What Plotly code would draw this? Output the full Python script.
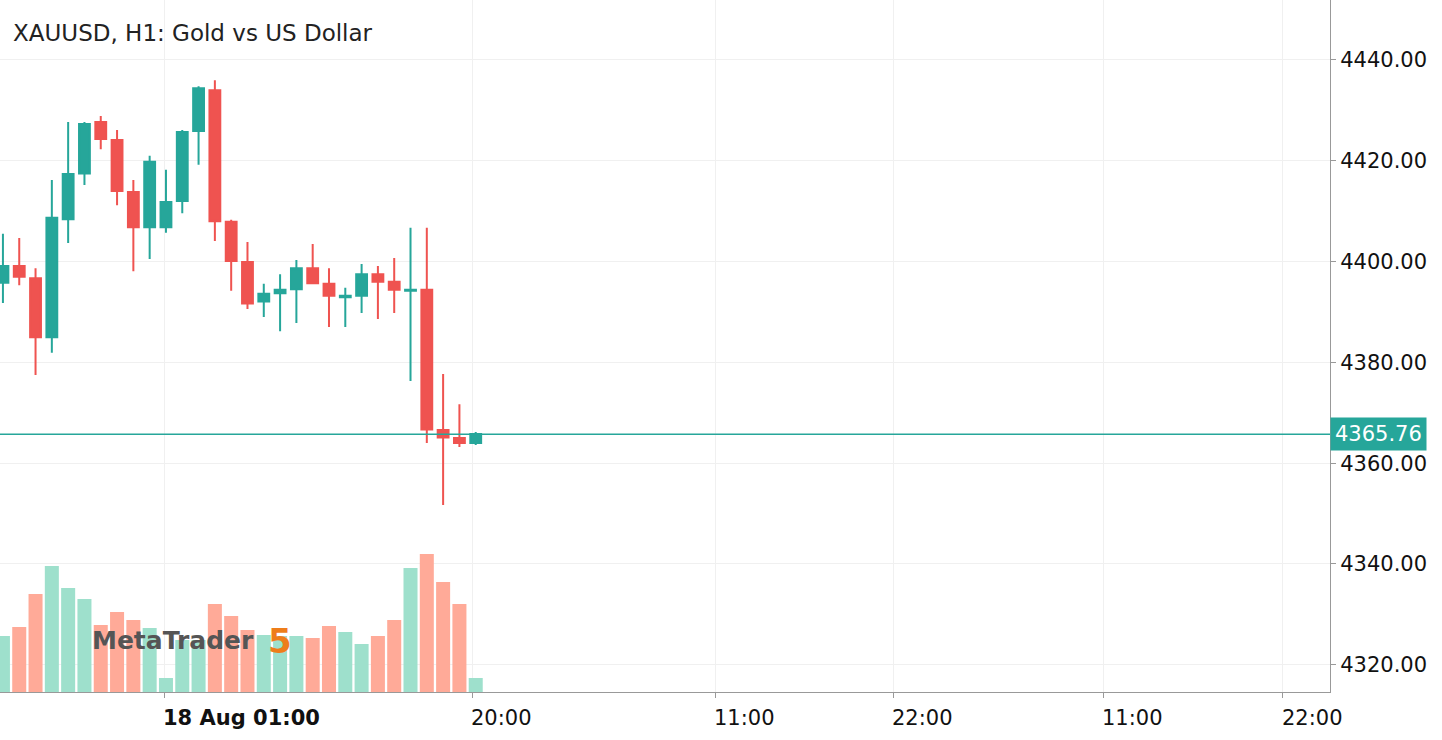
import plotly.graph_objects as go

idx = list(range(30))
opens  = [4395.8,4399.1,4396.7,4385.0,4408.4,4417.5,4427.7,4424.1,4413.8,4406.8,4406.8,4412.0,4425.9,4434.0,4407.9,
          4399.9,4392.1,4393.7,4394.5,4398.7,4395.6,4392.9,4393.2,4397.5,4396.0,4394.2,4394.4,4366.6,4365.0,4364.0]
highs  = [4405.5,4404.7,4398.7,4416.2,4427.7,4427.7,4428.9,4426.1,4416.2,4421.0,4418.2,4426.1,4434.8,4436.0,4408.3,
          4403.9,4395.6,4397.5,4400.3,4403.5,4398.7,4394.8,4399.5,4399.1,4400.7,4406.7,4406.7,4377.7,4371.7,4366.2]
lows   = [4391.8,4395.3,4377.5,4381.9,4403.7,4415.2,4422.3,4411.2,4398.1,4400.5,4405.7,4409.6,4419.2,4404.1,4394.2,
          4390.6,4389.0,4386.2,4387.8,4395.7,4387.0,4387.0,4389.8,4388.6,4389.8,4376.3,4364.0,4351.7,4363.2,4363.6]
closes = [4399.1,4397.0,4385.0,4408.7,4417.4,4427.3,4424.3,4414.0,4406.8,4419.8,4411.8,4425.7,4434.4,4408.0,4400.1,
          4391.7,4393.6,4394.4,4398.7,4395.7,4393.2,4393.2,4397.5,4396.0,4394.4,4394.4,4366.7,4365.1,4364.0,4365.8]
volumes = [56,65,98,126,104,93,67,80,72,64,14,52,52,88,76,62,57,56,56,54,66,60,48,56,72,124,138,110,88,14]
last_price = 4365.76

tick_vals = [9.9, 28.8, 43.7, 54.6, 67.5, 78.5]
tick_text = ["<b>18 Aug 01:00</b>", "20:00", "11:00", "22:00", "11:00", "22:00"]
price_ticks = [4320, 4340, 4360, 4380, 4400, 4420, 4440]

UP, DN = "#26a69a", "#ef5350"
vcol = ["#9ee0cc" if c >= o else "#ffaa98" for o, c in zip(opens, closes)]
FONT = "DejaVu Sans"

fig = go.Figure()
fig.add_trace(go.Bar(x=idx, y=volumes, marker_color=vcol, marker_line_width=0,
                     yaxis="y2", showlegend=False, hoverinfo="skip"))
fig.add_trace(go.Candlestick(x=idx, open=opens, high=highs, low=lows, close=closes,
                             increasing=dict(line=dict(color=UP, width=2), fillcolor=UP),
                             decreasing=dict(line=dict(color=DN, width=2), fillcolor=DN),
                             whiskerwidth=0, showlegend=False))
fig.add_hline(y=last_price, line_color=UP, line_width=1.5)

annotations = [
    dict(text="XAUUSD, H1: Gold vs US Dollar", xref="paper", yref="paper", x=0.008, y=1.0,
         yshift=-33, xanchor="left", yanchor="middle", showarrow=False,
         font=dict(size=23, color="#222")),
    dict(text=f"{last_price:.2f}", xref="paper", yref="y", x=1, y=last_price,
         xanchor="left", showarrow=False, bgcolor=UP, font=dict(size=21, color="white"),
         borderpad=4),
    dict(text="<b>MetaTrader</b>", xref="paper", yref="paper", x=0.068, y=0.074,
         xanchor="left", yanchor="middle", showarrow=False, font=dict(size=25, color="#555")),
    dict(text="<b>5</b>", xref="paper", yref="paper", x=0.2, y=0.074,
         xanchor="left", yanchor="middle", showarrow=False, font=dict(size=34, color="#ee7d1a")),
]
for tv, tt in zip(tick_vals, tick_text):
    annotations.append(dict(text=tt, xref="x", yref="paper", x=tv, y=0, yshift=-26,
                            xanchor="left", yanchor="middle", xshift=-3, showarrow=False,
                            font=dict(size=21, color="#111")))

fig.update_layout(
    width=1442, height=740, paper_bgcolor="white", plot_bgcolor="white",
    margin=dict(l=0, r=112, t=0, b=48, autoexpand=False),
    font=dict(family=FONT, color="#222"),
    bargap=0.14, boxgap=0.05,
    xaxis=dict(range=[-0.18, 81.4], tickvals=tick_vals, showticklabels=False,
               showgrid=True, gridcolor="#f0f0f0", showline=True, linecolor="#999",
               ticks="outside", tickcolor="#999", ticklen=5, rangeslider=dict(visible=False)),
    yaxis=dict(range=[4314.6, 4451.9], side="right", tickvals=price_ticks,
               ticktext=[f"{v:.2f}" for v in price_ticks], showgrid=True, gridcolor="#f0f0f0",
               showline=True, linecolor="#999", ticks="outside", tickcolor="#999", ticklen=5,
               tickfont=dict(size=21, color="#111"), zeroline=False),
    yaxis2=dict(range=[0, 692], overlaying="y", visible=False),
    annotations=annotations,
)
fig.write_html("out.html", config={"displayModeBar": False},
               post_script="document.body.style.margin='0';document.body.style.overflow='hidden';")
